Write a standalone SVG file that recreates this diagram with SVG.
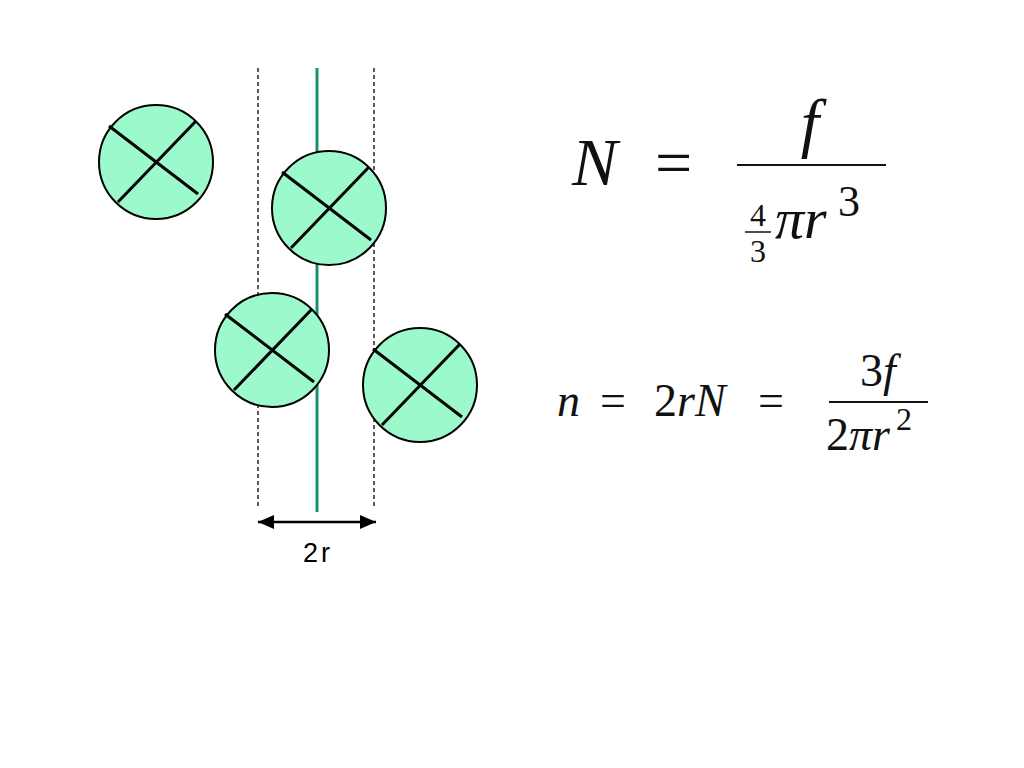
<svg xmlns="http://www.w3.org/2000/svg" width="1024" height="768" viewBox="0 0 1024 768">
<style>
.c{fill:#9cf9cc;stroke:#000;stroke-width:2}
.x{stroke:#000;stroke-width:3}
.d{stroke:#000;stroke-width:1.3;stroke-dasharray:4,3}
.m{font-family:"Liberation Serif","DejaVu Serif",serif;fill:#111}
.i{font-style:italic}
</style>
<defs>
<marker id="ah" markerWidth="16" markerHeight="14" refX="16" refY="7" orient="auto-start-reverse" markerUnits="userSpaceOnUse" viewBox="0 0 16 14"><path d="M0,0L16,7L0,14z" fill="#000"/></marker>
<g id="ball"><circle class="c" r="57"/><line class="x" x1="-47" y1="-36" x2="42" y2="32"/><line class="x" x1="-38" y1="40" x2="40" y2="-41"/></g>
</defs>
<rect width="1024" height="768" fill="#fff"/>
<g id="connectors">
<line class="d" x1="258" y1="68" x2="258" y2="507"/>
<line class="d" x1="374" y1="68" x2="374" y2="507"/>
<line x1="317" y1="68" x2="317" y2="512" stroke="#1a9070" stroke-width="3"/>
<line x1="258" y1="522" x2="376" y2="522" stroke="#000" stroke-width="2.5" marker-start="url(#ah)" marker-end="url(#ah)"/>
</g>
<g id="b1"><use href="#ball" x="156" y="162"/></g>
<g id="b2"><use href="#ball" x="329" y="208"/></g>
<g id="b3"><use href="#ball" x="272" y="350"/></g>
<g id="b4"><use href="#ball" x="420" y="385"/></g>
<text x="318" y="562" font-family="Liberation Sans,Arial,sans-serif" font-size="27" text-anchor="middle" letter-spacing="3">2r</text>
<g id="eq1" class="m">
<text x="572" y="185" font-size="68" class="i">N</text>
<text x="655" y="185" font-size="66">=</text>
<text x="810" y="145" font-size="66" class="i" text-anchor="middle">f</text>
<line x1="737" y1="165" x2="886" y2="165" stroke="#111" stroke-width="2"/>
<text x="758" y="226" font-size="32" text-anchor="middle">4</text>
<line x1="745" y1="232" x2="771" y2="232" stroke="#111" stroke-width="1.5"/>
<text x="758" y="262" font-size="32" text-anchor="middle">3</text>
<text x="775" y="238" font-size="58" class="i">πr</text>
<text x="838" y="216" font-size="44">3</text>
</g>
<g id="eq2" class="m">
<text x="557" y="416" font-size="46" class="i">n</text>
<text x="600" y="416" font-size="46">=</text>
<text x="654" y="416" font-size="46">2<tspan class="i">rN</tspan></text>
<text x="758" y="416" font-size="46">=</text>
<text x="878" y="386" font-size="46" text-anchor="middle">3<tspan class="i">f</tspan></text>
<line x1="829" y1="402" x2="928" y2="402" stroke="#111" stroke-width="1.8"/>
<text x="826" y="450" font-size="46">2<tspan class="i">πr</tspan></text>
<text x="896" y="430" font-size="32">2</text>
</g>
</svg>
